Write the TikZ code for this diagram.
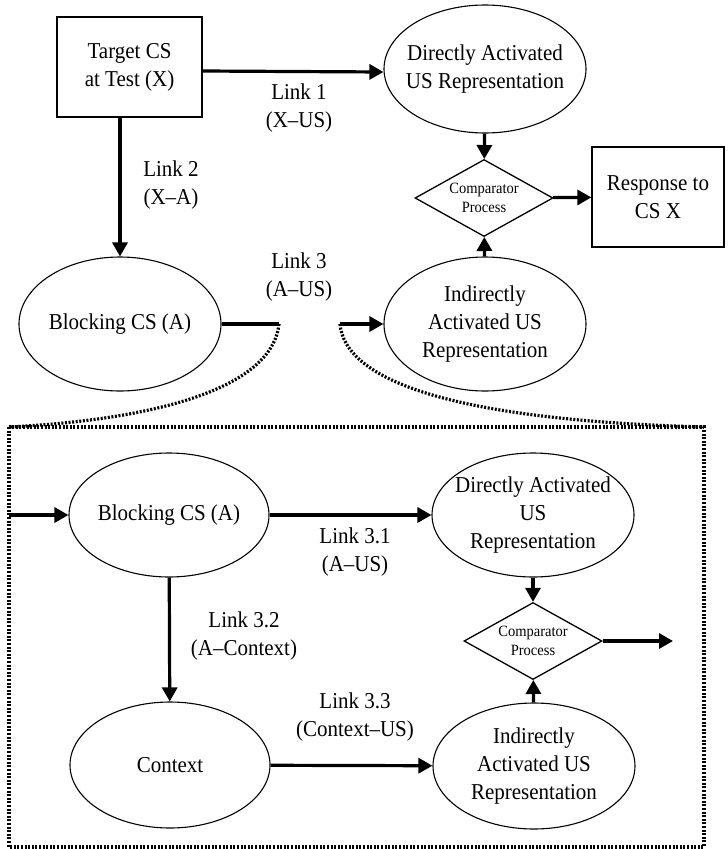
\documentclass[tikz,border=0pt]{standalone}
\usepackage{fontspec}
\setmainfont{Liberation Serif}[FakeStretch=0.925]
\usetikzlibrary{shapes.geometric,arrows.meta}

\tikzset{
  every node/.style={font=\fontsize{22.7}{28}\selectfont},
  box/.style={draw, line width=1.3pt, rectangle, align=center, minimum width=145pt, minimum height=100pt},
  oval/.style={draw, line width=1.1pt, ellipse, inner sep=0pt, minimum width=202pt, minimum height=126pt},
  comp/.style={draw, line width=1.3pt, diamond, inner sep=0pt, minimum width=138pt, minimum height=77pt,
    label={[font=\fontsize{15.7}{18.5}\selectfont, align=center]center:Comparator\\Process}},
  lbl/.style={align=center},
  link/.style={line width=3.2pt, -{Triangle[length=14pt,width=15pt]}},
  plain/.style={line width=3.2pt},
  dotline/.style={line width=3.2pt, dash pattern=on 2pt off 1.6pt},
}

\begin{document}
\begin{tikzpicture}[x=1pt, y=-1pt]

\useasboundingbox (0,0) rectangle (728,849);

\begin{scope}

% upper model
\node[box] (tgt) at (129.5,67) {Target CS\\at Test (X)};
\node[oval, minimum height=128pt, label={[lbl]center:Directly Activated\\US Representation}] (dir) at (485,69) {};
\node[comp] (cmp) at (484,198) {};
\node[box, minimum width=132pt] (resp) at (658,197) {Response to\\CS X};
\node[oval, minimum height=134pt, label={[lbl]center:Indirectly\\Activated US\\Representation}] (ind) at (485,324) {};
\node[oval, minimum height=134pt, label={[lbl]center:Blocking CS (A)}] (blk) at (120,324) {};

\node[lbl] (l1) at (299,108) {Link 1\\(X--US)};
\node[lbl] (l2) at (171,185) {Link 2\\(X--A)};
\node[lbl] (l3) at (299,277) {Link 3\\(A--US)};

\coordinate (c1) at (279,324);
\coordinate (c2) at (340,324);

\draw[link] ([yshift=-4pt]tgt.east) -- ([yshift=-3pt]dir.west);
\draw[link] (tgt.south -| blk) -- (blk);
\draw[link] (dir) -- (cmp);
\draw[link] (ind) -- (cmp);
\draw[link] (cmp) -- (resp);
\draw[plain] (blk) -- (c1);
\draw[link] (c2) -- (ind);

% expansion of link 3
\coordinate (fnw) at (9,427);
\coordinate (fne) at (704,427);
\coordinate (fse) at (704,847);
\draw[dotline] (fnw) rectangle (fse);
\draw[dotline] (c1) .. controls (272,390) and (150,420) .. (fnw);
\draw[dotline] (c2) .. controls (345,380) and (450,420) .. (fne);

% lower model
\node[oval, minimum width=200pt, minimum height=124pt, label={[lbl]center:Blocking CS (A)}] (blk2) at (169,515) {};
\node[oval, minimum height=124pt, label={[lbl]center:Directly Activated\\US\\Representation}] (dir2) at (533,515) {};
\node[comp] (cmp2) at (533,641) {};
\node[oval, minimum width=200pt, label={[lbl]center:Context}] (ctx) at (170,765) {};
\node[oval, label={[lbl]center:Indirectly\\Activated US\\Representation}] (ind2) at (534,766) {};

\node[lbl] (l31) at (355,552) {Link 3.1\\(A--US)};
\node[lbl] (l32) at (244,636) {Link 3.2\\(A--Context)};
\node[lbl] (l33) at (355,717) {Link 3.3\\(Context--US)};

\coordinate (entry) at (9,515);
\coordinate (exit) at (673,641);

\draw[link] (entry) -- (blk2);
\draw[link] (blk2) -- (dir2);
\draw[link] (dir2) -- (cmp2);
\draw[link] (cmp2) -- (exit);
\draw[link] (blk2) -- (ctx);
\draw[link] (ctx) -- (ind2);
\draw[link] (ind2) -- (cmp2);

\end{scope}

\end{tikzpicture}
\end{document}
